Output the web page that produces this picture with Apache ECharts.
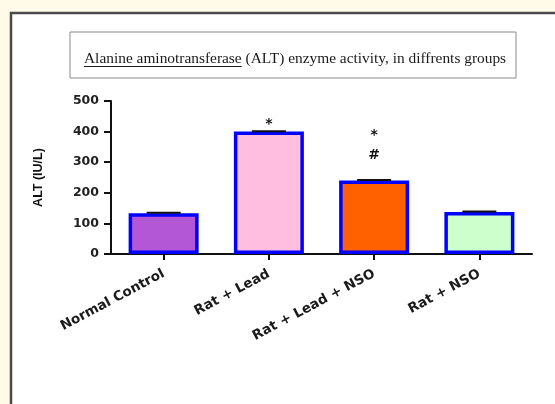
<!DOCTYPE html>
<html>
<head>
<meta charset="utf-8">
<title>ALT enzyme activity</title>
<script src="https://cdn.jsdelivr.net/npm/echarts@6/dist/echarts.min.js"></script>
<style>
  html, body { margin: 0; padding: 0; background: #fffbe8; }
  #chart { width: 555px; height: 404px; }
</style>
</head>
<body>
<div id="chart"></div>
<script>
// Groups and measured ALT activity (IU/L), mean and SEM
const categories = ['Normal Control', 'Rat + Lead', 'Rat + Lead + NSO', 'Rat + NSO'];
const altValues = [133, 400, 240, 137];
const altErrors = [1.5, 1.5, 1.5, 1.5];
const barColors = ['#b457d6', '#ffbde0', '#ff6100', '#ccffcc'];
// significance marks: * vs control, # vs lead group
const markVsControl = ['', '*', '*', ''];
const markVsLead = ['', '', '#', ''];
const yMin = 0, yMax = 500, yStep = 100;

const titleMain = 'Alanine aminotransferase';
const titleRest = ' (ALT) enzyme activity, in diffrents groups';
const titleFont = '15.4px "Liberation Serif", "Times New Roman", serif';

const chart = echarts.init(document.getElementById('chart'), null, { renderer: 'canvas' });

// measure the underlined part of the heading
const ctx = document.createElement('canvas').getContext('2d');
ctx.font = titleFont;
const wMain = ctx.measureText(titleMain).width;
const wAll = ctx.measureText(titleMain + titleRest).width;
const boxL = 70, boxR = 516, boxT = 32, boxB = 78;
const textX = 84;
const textY = 59;

const option = {
  backgroundColor: '#fffbe8',
  animation: false,
  graphic: [
    { type: 'rect', z: -10, shape: { x: 11, y: 13, width: 560, height: 400 },
      style: { fill: '#ffffff', stroke: '#4a4a4a', lineWidth: 2.5 } },
    { type: 'rect', z: -9, shape: { x: boxL, y: boxT, width: boxR - boxL, height: boxB - boxT },
      style: { fill: '#ffffff', stroke: '#8a8a8a', lineWidth: 1 } },
    { type: 'text', z: 5, x: textX, y: textY,
      style: { text: titleMain + titleRest, font: titleFont, fill: '#1a1a1a', verticalAlign: 'middle', align: 'left' } },
    { type: 'line', z: 5, shape: { x1: textX, y1: textY + 7.5, x2: textX + wMain, y2: textY + 7.5 },
      style: { stroke: '#1a1a1a', lineWidth: 1 } }
  ],
  grid: { left: 111, right: 23, top: 101, bottom: 150, containLabel: false },
  xAxis: {
    type: 'category',
    data: categories,
    axisLine: { show: true, lineStyle: { color: '#111', width: 2 } },
    axisTick: { show: true, alignWithLabel: true, length: 6, lineStyle: { color: '#111', width: 2 } },
    axisLabel: {
      interval: 0, rotate: 28, margin: 19,
      fontFamily: 'DejaVu Sans', fontWeight: 'bold', fontSize: 13.5, color: '#1a1a1a'
    },
    splitLine: { show: false }
  },
  yAxis: {
    type: 'value',
    min: yMin, max: yMax, interval: yStep,
    name: 'ALT (IU/L)',
    nameLocation: 'middle',
    nameGap: 66,
    nameTextStyle: { fontFamily: 'Liberation Sans', fontWeight: 'bold', fontSize: 12.5, color: '#111' },
    axisLine: { show: true, lineStyle: { color: '#111', width: 2 } },
    axisTick: { show: true, length: 7, lineStyle: { color: '#111', width: 2 } },
    axisLabel: { margin: 12, fontFamily: 'DejaVu Sans', fontWeight: 'bold', fontSize: 12.5, color: '#222' },
    splitLine: { show: false }
  },
  series: [
    {
      type: 'bar',
      barWidth: 70,
      z: 2,
      data: altValues.map((v, i) => ({
        value: v,
        itemStyle: { color: barColors[i] },
        label: { distance: markVsLead[i] ? 15 : -3 }
      })),
      itemStyle: { borderColor: '#0000ff', borderWidth: 3.5 },
      label: {
        show: true,
        position: 'top',
        formatter: p => {
          const a = markVsControl[p.dataIndex], b = markVsLead[p.dataIndex];
          const parts = [];
          if (a) parts.push('{s|' + a + '}');
          if (b) parts.push('{h|' + b + '}');
          return parts.join('\n');
        },
        rich: {
          s: { fontFamily: 'DejaVu Sans', fontWeight: 'bold', fontSize: 14, color: '#111', lineHeight: 20 },
          h: { fontFamily: 'DejaVu Sans', fontWeight: 'bold', fontSize: 14, color: '#111', lineHeight: 20 }
        }
      }
    },
    {
      // SEM error caps
      type: 'custom',
      z: 3,
      data: altValues.map((v, i) => [i, v, altErrors[i]]),
      renderItem: (params, api) => {
        const x = api.value(0), v = api.value(1), e = api.value(2);
        const top = api.coord([x, v + e]);
        const base = api.coord([x, v]);
        const half = 17;
        return {
          type: 'group',
          children: [
            { type: 'line', shape: { x1: top[0], y1: top[1], x2: base[0], y2: base[1] },
              style: { stroke: '#111', lineWidth: 2 } },
            { type: 'line', shape: { x1: top[0] - half, y1: top[1], x2: top[0] + half, y2: top[1] },
              style: { stroke: '#111', lineWidth: 2 } }
          ]
        };
      }
    }
  ]
};

chart.setOption(option);
</script>
</body>
</html>
